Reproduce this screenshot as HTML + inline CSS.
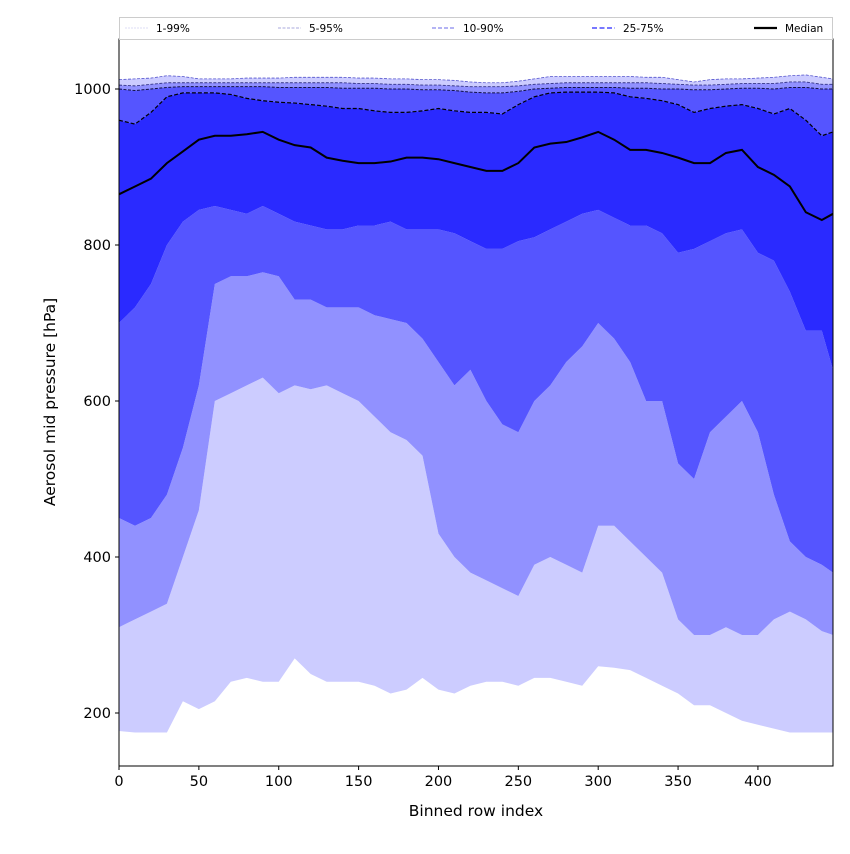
<!DOCTYPE html>
<html><head><meta charset="utf-8"><style>
body{margin:0;background:#fff;font-family:"DejaVu Sans","Liberation Sans",sans-serif}
svg text{font-family:"DejaVu Sans","Liberation Sans",sans-serif}
</style></head><body>
<svg id="c" width="850" height="850" xmlns="http://www.w3.org/2000/svg"></svg>
<script>
const idx=[0,10,20,30,40,50,60,70,80,90,100,110,120,130,140,150,160,170,180,190,200,210,220,230,240,250,260,270,280,290,300,310,320,330,340,350,360,370,380,390,400,410,420,430,440,447];
const p1=[177,175,175,175,215,205,215,240,245,240,240,270,250,240,240,240,235,225,230,245,230,225,235,240,240,235,245,245,240,235,260,258,255,245,235,225,210,210,200,190,185,180,175,175,175,175];
const p5=[310,320,330,340,400,460,600,610,620,630,610,620,615,620,610,600,580,560,550,530,430,400,380,370,360,350,390,400,390,380,440,440,420,400,380,320,300,300,310,300,300,320,330,320,305,300];
const p10=[450,440,450,480,540,620,750,760,760,765,760,730,730,720,720,720,710,705,700,680,650,620,640,600,570,560,600,620,650,670,700,680,650,600,600,520,500,560,580,600,560,480,420,400,390,380];
const p25=[700,720,750,800,830,845,850,845,840,850,840,830,825,820,820,825,825,830,820,820,820,815,805,795,795,805,810,820,830,840,845,835,825,825,815,790,795,805,815,820,790,780,740,690,690,640];
const p50=[865,875,885,905,920,935,940,940,942,945,935,928,925,912,908,905,905,907,912,912,910,905,900,895,895,905,925,930,932,938,945,935,922,922,918,912,905,905,918,922,900,890,875,842,832,840];
const p75=[960,955,970,990,995,995,995,993,988,985,983,982,980,978,975,975,972,970,970,972,975,972,970,970,968,980,990,995,996,996,996,995,990,988,985,980,970,975,978,980,975,968,975,960,940,945];
const p90=[1000,998,1000,1002,1003,1003,1003,1003,1003,1003,1002,1002,1002,1002,1001,1001,1001,1000,1000,999,999,998,996,995,995,997,1000,1001,1002,1002,1002,1002,1001,1001,1000,1000,999,999,1000,1001,1001,1000,1002,1002,1000,1000];
const p95=[1005,1004,1006,1008,1008,1008,1008,1008,1008,1008,1008,1008,1008,1008,1008,1007,1007,1006,1006,1005,1005,1004,1003,1003,1003,1004,1006,1007,1008,1008,1008,1008,1008,1008,1007,1006,1005,1005,1006,1007,1007,1007,1009,1009,1006,1006];
const p99=[1012,1013,1014,1017,1016,1013,1013,1013,1014,1014,1014,1015,1015,1015,1015,1014,1014,1013,1013,1012,1012,1011,1009,1008,1008,1010,1013,1016,1016,1016,1016,1016,1016,1015,1015,1012,1009,1012,1013,1013,1014,1015,1017,1018,1015,1013];
const xTicks=[0,50,100,150,200,250,300,350,400];
const yTicks=[200,400,600,800,1000];
const legendLabels=["1-99%","5-95%","10-90%","25-75%","Median"];

const NS="http://www.w3.org/2000/svg",svg=document.getElementById('c');
const L=119,R=833,T=39,B=766;
const X=v=>L+v*(R-L)/447;
const Y=v=>89+(1000-v)*0.78;
function el(t,a,p){const e=document.createElementNS(NS,t);for(const k in a)e.setAttribute(k,a[k]);(p||svg).appendChild(e);return e;}
const clip=el('clipPath',{id:'cp'});el('rect',{x:L,y:T,width:R-L,height:B-T},clip);
const g=el('g',{'clip-path':'url(#cp)'});
function band(lo,hi,fill,name){
  let d='M'+idx.map((v,i)=>X(v)+','+Y(hi[i])).join('L');
  for(let i=idx.length-1;i>=0;i--)d+='L'+X(idx[i])+','+Y(lo[i]);
  const p=el('path',{d:d+'Z',fill:fill},g);
  
  
}
function line(arr,stroke,w,dash,name){
  const p=el('path',{d:'M'+idx.map((v,i)=>X(v)+','+Y(arr[i])).join('L'),fill:'none',stroke:stroke,'stroke-width':w,'stroke-dasharray':dash},g);
  
  
}
band(p1,p5,'#ccccff','band-1-5');
band(p5,p10,'#9191ff','band-5-10');
band(p10,p25,'#5555ff','band-10-25');
band(p25,p75,'#2a2aff','band-25-75');
band(p75,p90,'#5555ff','band-75-90');
band(p90,p95,'#9191ff','band-90-95');
band(p95,p99,'#ccccff','band-95-99');
line(p99,'#5555cc',0.8,'3,1.5','line-p99');
line(p95,'#333388',0.9,'3,1.5','line-p95');
line(p90,'#111144',1,'3,1.5','line-p90');
line(p75,'#000',1.2,'4,2','line-p75');
line(p50,'#000',2,'','median-line');
el('rect',{x:L,y:T,width:R-L,height:B-T,fill:'none',stroke:'#000','stroke-width':1});
xTicks.forEach(v=>{
  el('line',{x1:X(v),x2:X(v),y1:B,y2:B+4,stroke:'#000'});
  const tx=el('text',{x:X(v),y:B+20,'text-anchor':'middle','font-size':14.5});tx.textContent=v;
  
  
});
yTicks.forEach(v=>{
  el('line',{x1:L-4,x2:L,y1:Y(v),y2:Y(v),stroke:'#000'});
  const tx=el('text',{x:L-8,y:Y(v)+5,'text-anchor':'end','font-size':14.5});tx.textContent=v;
  
  
});
const xt=el('text',{x:476,y:816,'text-anchor':'middle','font-size':15.5});xt.textContent='Binned row index';


const yt=el('text',{x:0,y:0,'text-anchor':'middle','font-size':15.5,transform:'translate(55,402) rotate(-90)'});yt.textContent='Aerosol mid pressure [hPa]';


const lg=el('g',{});


el('rect',{x:119.5,y:17.5,width:713,height:22,fill:'#fff',stroke:'#ccc'},lg);
const lx=[125,278,432,592,754];
const ls=[['#ddddf5',1,'2,1'],['#aaaadd',1,'3,1.5'],['#8888ee',1.3,'4,2'],['#6666ff',1.8,'5,2.5'],['#000',2.2,'']];
legendLabels.forEach((s,i)=>{
  el('line',{x1:lx[i],x2:lx[i]+23,y1:28,y2:28,stroke:ls[i][0],'stroke-width':ls[i][1],'stroke-dasharray':ls[i][2]},lg);
  const t=el('text',{x:lx[i]+31,y:32,'font-size':10.5},lg);t.textContent=s;
  
  
});
</script>
</body></html>
